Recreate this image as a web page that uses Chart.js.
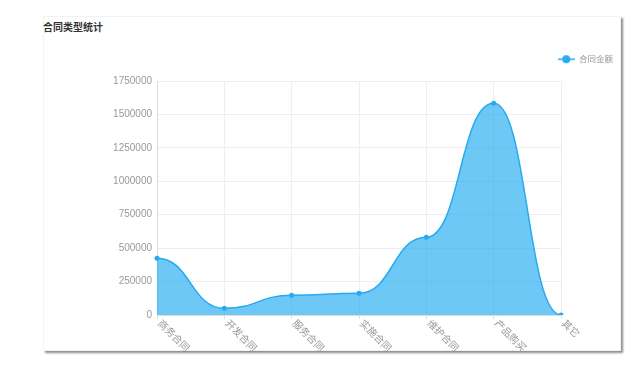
<!DOCTYPE html>
<html>
<head>
<meta charset="utf-8">
<script src="https://cdn.jsdelivr.net/npm/chart.js@4/dist/chart.umd.min.js"></script>
<style>
  html, body { margin: 0; padding: 0; background: #fff; width: 638px; height: 372px; overflow: hidden; }
  .card { position: absolute; left: 43px; top: 16px; width: 578px; height: 335px; box-sizing: border-box;
          border: 1px solid #f2f2f2; box-shadow: 2px 2px 2px rgba(0,0,0,0.45); background: #fff; }
  .title { position: absolute; left: 43px; top: 21px; font: bold 10px "Noto Sans CJK SC", sans-serif; color: #333; line-height: 12px; }
  #chart { position: absolute; left: 43px; top: 40px; }
</style>
</head>
<body>
<div class="card"></div>
<div class="title">合同类型统计</div>
<canvas id="chart" width="578" height="311"></canvas>
<script>
// data
var categories = ['商务合同', '开发合同', '服务合同', '实施合同', '维护合同', '产品购买', '其它'];
var amounts = [424000, 50000, 147000, 163000, 581000, 1583000, 0];
var seriesName = '合同金额';
var yMax = 1750000;
var yStep = 250000;

var lineColor = 'rgb(38,170,240)';
var fillColor = 'rgba(30,170,240,0.65)';
var font = '"Liberation Sans", "Noto Sans CJK SC", sans-serif';
var smooth = 0.5;

// legend icon: short line with a dot
var icon = document.createElement('canvas');
icon.width = 17; icon.height = 10;
(function(){
  var c = icon.getContext('2d');
  c.strokeStyle = lineColor; c.lineWidth = 1.5;
  c.beginPath(); c.moveTo(0, 5); c.lineTo(17, 5); c.stroke();
  c.fillStyle = lineColor;
  c.beginPath(); c.arc(8.5, 5, 4, 0, Math.PI * 2); c.fill();
})();

// x labels slant down to the right, which Chart.js can't do itself
var xLabels = {
  id: 'xLabels',
  afterDraw: function(chart) {
    var x = chart.scales.x, ctx = chart.ctx;
    ctx.save();
    ctx.font = '10px ' + font;
    ctx.fillStyle = '#999';
    ctx.textAlign = 'left';
    ctx.textBaseline = 'middle';
    categories.forEach(function(c, i){
      ctx.save();
      ctx.translate(x.getPixelForValue(i) + 2, chart.chartArea.bottom + 7);
      ctx.rotate(Math.PI / 4);
      ctx.fillText(c, 0, 0);
      ctx.restore();
    });
    ctx.restore();
  }
};

// reference curve has flat tangents at every point -> keep control points level
var levelTangents = {
  id: 'levelTangents',
  beforeDatasetsDraw: function(chart) {
    chart.getSortedVisibleDatasetMetas().forEach(function(meta){
      var pts = meta.data;
      meta.dataset.updateControlPoints(chart.chartArea, 'x');
      pts.forEach(function(p, i){
        var prev = pts[i - 1] || p, next = pts[i + 1] || p;
        p.cp1x = p.x - (p.x - prev.x) * smooth; p.cp1y = p.y;
        p.cp2x = p.x + (next.x - p.x) * smooth; p.cp2y = p.y;
      });
      meta.dataset._path = undefined;
    });
  }
};

var legendHeight = {
  id: 'legendHeight',
  beforeInit: function(chart) {
    var fit = chart.legend.fit;
    chart.legend.fit = function() { fit.bind(chart.legend)(); this.height = 34; };
  }
};

new Chart(document.getElementById('chart').getContext('2d'), {
  type: 'line',
  data: {
    labels: categories,
    datasets: [{
      label: seriesName,
      data: amounts,
      borderColor: lineColor,
      backgroundColor: fillColor,
      borderWidth: 1.5,
      fill: 'origin',
      tension: 0.4,
      pointRadius: 2.5,
      pointBackgroundColor: lineColor,
      pointBorderWidth: 0
    }]
  },
  options: {
    responsive: false,
    animation: false,
    layout: { padding: { top: 7, right: 0, bottom: 32, left: 0 } },
    scales: {
      x: {
        grid: { color: '#eee', tickLength: 4, tickColor: '#ddd' },
        border: { color: '#ddd' },
        ticks: { display: false }
      },
      y: {
        min: 0, max: yMax,
        grid: { color: '#eee', drawTicks: false },
        border: { color: '#ddd' },
        ticks: { stepSize: yStep, padding: 5, color: '#999', font: { size: 10, family: font },
                 callback: function(v){ return String(v); } },
        afterFit: function(s){ s.width = 114; }
      },
      yr: {
        position: 'right',
        grid: { display: false },
        border: { display: false },
        ticks: { display: false },
        afterFit: function(s){ s.width = 60; }
      }
    },
    plugins: {
      legend: {
        align: 'end',
        labels: {
          usePointStyle: true, pointStyle: icon, pointStyleWidth: 17, boxHeight: 10,
          padding: 8, color: '#999', font: { size: 8.5, family: font }
        }
      },
      tooltip: { enabled: false }
    }
  },
  plugins: [xLabels, levelTangents, legendHeight]
});
</script>
</body>
</html>
